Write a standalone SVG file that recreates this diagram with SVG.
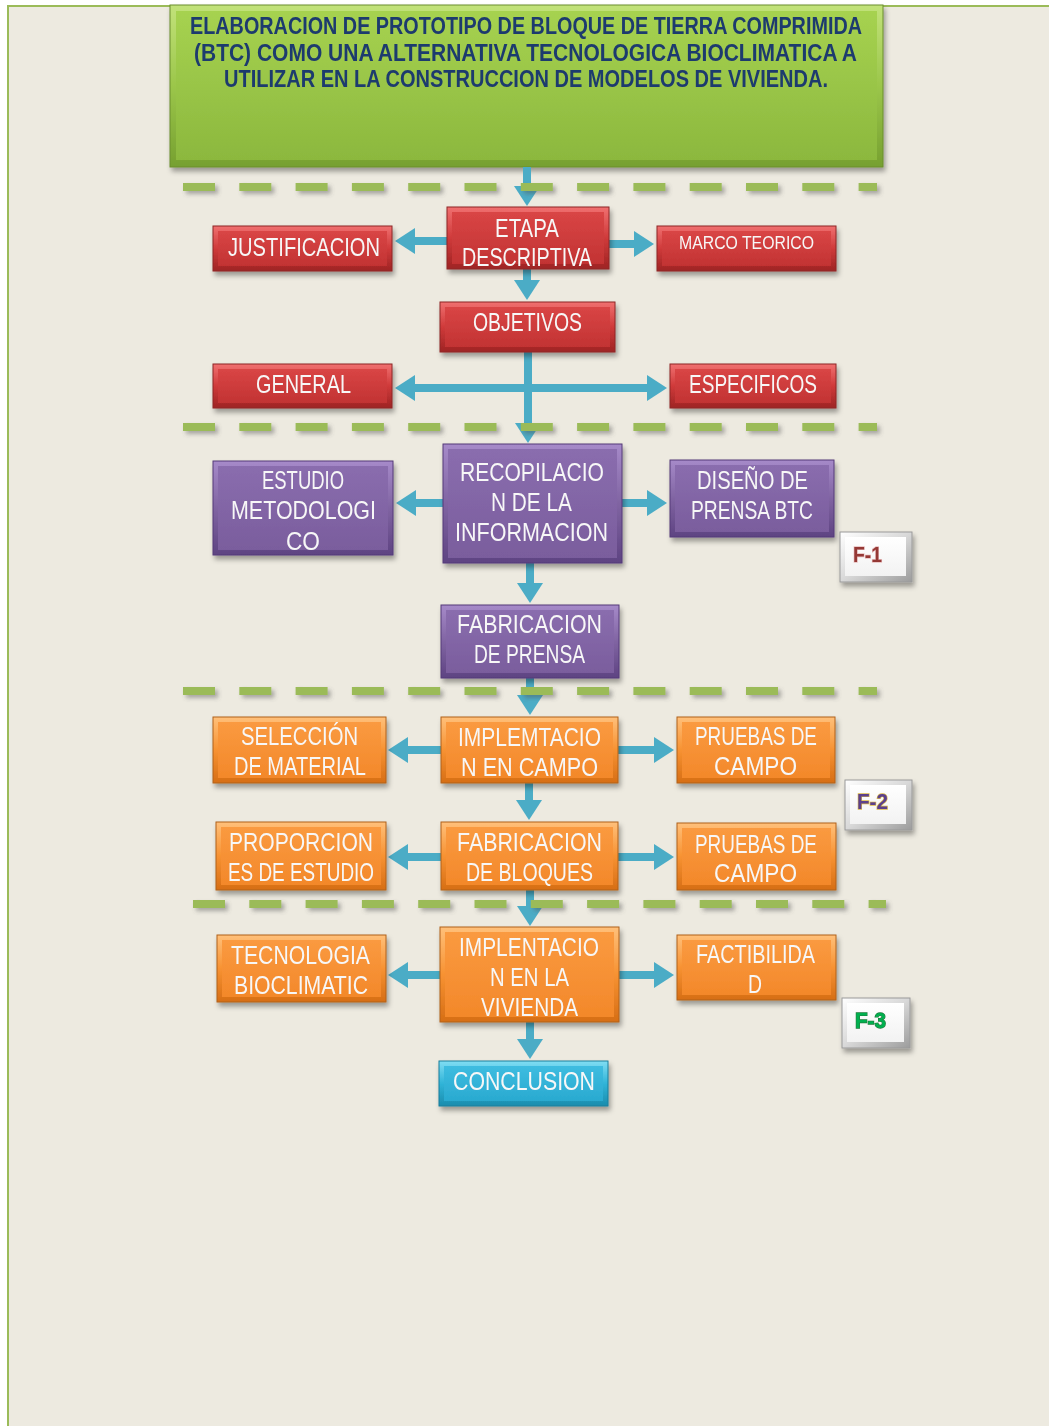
<svg xmlns="http://www.w3.org/2000/svg" width="1049" height="1426" viewBox="0 0 1049 1426">
<defs>
<style>
.t{font-family:"Liberation Sans",Arial,sans-serif;font-size:25px;fill:#F7F7F7;text-anchor:middle}
.tt{font-family:"Liberation Sans",Arial,sans-serif;font-size:23px;font-weight:bold;fill:#1F3A6E;text-anchor:middle}
.fl{font-family:"Liberation Sans",Arial,sans-serif;font-size:22px;font-weight:bold;text-anchor:middle;paint-order:stroke;stroke-width:1.3px}
.node{filter:url(#sh)}
.red .o{fill:url(#rO);stroke:#8E2626;stroke-width:1}
.red .i{fill:url(#rI)}
.pur .o{fill:url(#pO);stroke:#553A78;stroke-width:1}
.pur .i{fill:url(#pI)}
.org .o{fill:url(#oO);stroke:#B0601C;stroke-width:1}
.org .i{fill:url(#oI)}
.cya .o{fill:url(#cO);stroke:#1A7F9C;stroke-width:1}
.cya .i{fill:url(#cI)}
.grn .o{fill:url(#gO);stroke:#6A8E2E;stroke-width:1}
.grn .i{fill:url(#gI)}
.fb .o{fill:url(#fO);stroke:#9A9A9A;stroke-width:1}
.fb .i{fill:url(#fI)}
.c{fill:none;stroke:#4BACC6;stroke-width:8;marker-end:url(#ah)}
.dv{fill:none;stroke:#9BBB59;stroke-width:8;stroke-dasharray:32 24.3}
</style>
<filter id="sh" x="-10%" y="-10%" width="130%" height="140%">
<feDropShadow dx="2" dy="4" stdDeviation="2.5" flood-color="#000" flood-opacity="0.35"/>
</filter>
<filter id="dsh" filterUnits="userSpaceOnUse" x="0" y="0" width="1049" height="1426">
<feDropShadow dx="3" dy="3" stdDeviation="2" flood-color="#555" flood-opacity="0.45"/>
</filter>
<marker id="ah" markerUnits="userSpaceOnUse" markerWidth="20" markerHeight="26" viewBox="0 0 20 26" refX="0" refY="13" orient="auto-start-reverse">
<path d="M0,0 L20,13 L0,26 Z" fill="#4BACC6"/>
</marker>
<linearGradient id="rO" x1="0" y1="0" x2="0" y2="1"><stop offset="0" stop-color="#F07070"/><stop offset="0.5" stop-color="#CF3A3A"/><stop offset="1" stop-color="#9E2424"/></linearGradient>
<linearGradient id="rI" x1="0" y1="0" x2="0" y2="1"><stop offset="0" stop-color="#D94545"/><stop offset="1" stop-color="#C23333"/></linearGradient>
<linearGradient id="pO" x1="0" y1="0" x2="0" y2="1"><stop offset="0" stop-color="#A68AC9"/><stop offset="0.5" stop-color="#8064A2"/><stop offset="1" stop-color="#5E4382"/></linearGradient>
<linearGradient id="pI" x1="0" y1="0" x2="0" y2="1"><stop offset="0" stop-color="#8A6DAE"/><stop offset="1" stop-color="#7A5D9D"/></linearGradient>
<linearGradient id="oO" x1="0" y1="0" x2="0" y2="1"><stop offset="0" stop-color="#FFC07A"/><stop offset="0.5" stop-color="#F79232"/><stop offset="1" stop-color="#D66E15"/></linearGradient>
<linearGradient id="oI" x1="0" y1="0" x2="0" y2="1"><stop offset="0" stop-color="#FA9A40"/><stop offset="1" stop-color="#F3882A"/></linearGradient>
<linearGradient id="cO" x1="0" y1="0" x2="0" y2="1"><stop offset="0" stop-color="#7FDDF3"/><stop offset="0.5" stop-color="#30B4D8"/><stop offset="1" stop-color="#1B8CAD"/></linearGradient>
<linearGradient id="cI" x1="0" y1="0" x2="0" y2="1"><stop offset="0" stop-color="#3DBCE0"/><stop offset="1" stop-color="#2AAAD0"/></linearGradient>
<linearGradient id="gO" x1="0" y1="0" x2="0" y2="1"><stop offset="0" stop-color="#C2E27A"/><stop offset="0.5" stop-color="#9BC64A"/><stop offset="1" stop-color="#76A030"/></linearGradient>
<linearGradient id="gI" x1="0" y1="0" x2="0" y2="1"><stop offset="0" stop-color="#A6D250"/><stop offset="1" stop-color="#8CB83E"/></linearGradient>
<linearGradient id="fO" x1="0" y1="0" x2="1" y2="1"><stop offset="0" stop-color="#FFFFFF"/><stop offset="0.5" stop-color="#D8D8D8"/><stop offset="1" stop-color="#9C9C9C"/></linearGradient>
<linearGradient id="fI" x1="0" y1="0" x2="0" y2="1"><stop offset="0" stop-color="#FFFFFF"/><stop offset="1" stop-color="#F2F2F2"/></linearGradient>
</defs>

<rect x="0" y="0" width="1049" height="1426" fill="#FFFFFF"/>
<rect x="8" y="6" width="1043" height="1422" fill="#EDEAE0" stroke="#9BBB59" stroke-width="2"/>

<g id="n-title" class="node grn">
<rect class="o" x="170" y="5" width="713" height="162"/>
<rect class="i" x="176" y="11" width="701" height="149"/>
<text class="tt" x="526" y="34" textLength="672" lengthAdjust="spacingAndGlyphs">ELABORACION DE PROTOTIPO DE BLOQUE DE TIERRA COMPRIMIDA</text>
<text class="tt" x="525.5" y="61" textLength="663" lengthAdjust="spacingAndGlyphs">(BTC) COMO UNA ALTERNATIVA TECNOLOGICA BIOCLIMATICA A</text>
<text class="tt" x="526" y="87" textLength="604" lengthAdjust="spacingAndGlyphs">UTILIZAR EN LA CONSTRUCCION DE MODELOS DE VIVIENDA.</text>
</g>

<g id="connectors">
<path class="c" d="M527,167 V186"/>
<path class="c" d="M447,241 H415"/>
<path class="c" d="M609,244 H634"/>
<path class="c" d="M527,269 V280"/>
<path class="c" d="M528,352 V423"/>
<path class="c" d="M415,388 H647" style="marker-start:url(#ah)"/>
<path class="c" d="M443,503 H416"/>
<path class="c" d="M622,503 H647"/>
<path class="c" d="M530,563 V583"/>
<path class="c" d="M530,678 V695"/>
<path class="c" d="M441,750 H408"/>
<path class="c" d="M618,750 H654"/>
<path class="c" d="M529,783 V800"/>
<path class="c" d="M441,857 H408"/>
<path class="c" d="M618,857 H654"/>
<path class="c" d="M530,890 V906"/>
<path class="c" d="M440,975 H408"/>
<path class="c" d="M619,975 H654"/>
<path class="c" d="M530,1022 V1039"/>
</g>

<g id="dividers" filter="url(#dsh)">
<path class="dv" d="M183,187 H877"/>
<path class="dv" d="M183,427 H877"/>
<path class="dv" d="M183,691 H877"/>
<path class="dv" d="M193,904 H886"/>
</g>

<g id="n-justificacion" class="node red">
<rect class="o" x="213" y="226" width="179" height="45"/>
<rect class="i" x="218" y="231" width="169" height="35"/>
<text class="t" x="304" y="256" textLength="152" lengthAdjust="spacingAndGlyphs">JUSTIFICACION</text>
</g>
<g id="n-etapa" class="node red">
<rect class="o" x="447" y="207" width="162" height="62"/>
<rect class="i" x="452" y="212" width="152" height="52"/>
<text class="t" x="527" y="237" textLength="64" lengthAdjust="spacingAndGlyphs">ETAPA</text>
<text class="t" x="527" y="266" textLength="130" lengthAdjust="spacingAndGlyphs">DESCRIPTIVA</text>
</g>
<g id="n-marco" class="node red">
<rect class="o" x="657" y="226" width="179" height="45"/>
<rect class="i" x="662" y="231" width="169" height="35"/>
<text class="t" x="746.5" y="249" style="font-size:18px" textLength="135" lengthAdjust="spacingAndGlyphs">MARCO TEORICO</text>
</g>
<g id="n-objetivos" class="node red">
<rect class="o" x="440" y="302" width="175" height="50"/>
<rect class="i" x="445" y="307" width="165" height="40"/>
<text class="t" x="527.5" y="331" textLength="109" lengthAdjust="spacingAndGlyphs">OBJETIVOS</text>
</g>
<g id="n-general" class="node red">
<rect class="o" x="213" y="364" width="179" height="44"/>
<rect class="i" x="218" y="369" width="169" height="34"/>
<text class="t" x="303.5" y="393" textLength="95" lengthAdjust="spacingAndGlyphs">GENERAL</text>
</g>
<g id="n-especificos" class="node red">
<rect class="o" x="670" y="364" width="166" height="44"/>
<rect class="i" x="675" y="369" width="156" height="34"/>
<text class="t" x="753" y="393" textLength="128" lengthAdjust="spacingAndGlyphs">ESPECIFICOS</text>
</g>

<g id="n-estudio" class="node pur">
<rect class="o" x="213" y="461" width="180" height="94"/>
<rect class="i" x="218" y="466" width="170" height="84"/>
<text class="t" x="303" y="489" textLength="82" lengthAdjust="spacingAndGlyphs">ESTUDIO</text>
<text class="t" x="303.5" y="519" textLength="145" lengthAdjust="spacingAndGlyphs">METODOLOGI</text>
<text class="t" x="303" y="550" textLength="34" lengthAdjust="spacingAndGlyphs">CO</text>
</g>
<g id="n-recopilacion" class="node pur">
<rect class="o" x="443" y="444" width="179" height="119"/>
<rect class="i" x="448" y="449" width="169" height="109"/>
<text class="t" x="532" y="481" textLength="144" lengthAdjust="spacingAndGlyphs">RECOPILACIO</text>
<text class="t" x="531.5" y="511" textLength="81" lengthAdjust="spacingAndGlyphs">N DE LA</text>
<text class="t" x="531.5" y="541" textLength="153" lengthAdjust="spacingAndGlyphs">INFORMACION</text>
</g>
<g id="n-diseno" class="node pur">
<rect class="o" x="670" y="460" width="164" height="77"/>
<rect class="i" x="675" y="465" width="154" height="67"/>
<text class="t" x="752.5" y="489" textLength="111" lengthAdjust="spacingAndGlyphs">DISEÑO DE</text>
<text class="t" x="752" y="519" textLength="122" lengthAdjust="spacingAndGlyphs">PRENSA BTC</text>
</g>
<g id="n-fabprensa" class="node pur">
<rect class="o" x="441" y="605" width="178" height="73"/>
<rect class="i" x="446" y="610" width="168" height="63"/>
<text class="t" x="529.5" y="633" textLength="145" lengthAdjust="spacingAndGlyphs">FABRICACION</text>
<text class="t" x="529.5" y="663" textLength="111" lengthAdjust="spacingAndGlyphs">DE PRENSA</text>
</g>
<g id="n-f1" class="node fb">
<rect class="o" x="840" y="532" width="72" height="50"/>
<rect class="i" x="845" y="537" width="61" height="39"/>
<text class="fl" x="867.5" y="562" textLength="29" lengthAdjust="spacingAndGlyphs" style="fill:#953735;stroke:#E8C0C0">F-1</text>
</g>

<g id="n-seleccion" class="node org">
<rect class="o" x="213" y="717" width="173" height="66"/>
<rect class="i" x="218" y="722" width="163" height="56"/>
<text class="t" x="299.5" y="745" textLength="117" lengthAdjust="spacingAndGlyphs">SELECCIÓN</text>
<text class="t" x="300" y="775" textLength="132" lengthAdjust="spacingAndGlyphs">DE MATERIAL</text>
</g>
<g id="n-implemcampo" class="node org">
<rect class="o" x="441" y="717" width="177" height="66"/>
<rect class="i" x="446" y="722" width="167" height="56"/>
<text class="t" x="529.5" y="746" textLength="143" lengthAdjust="spacingAndGlyphs">IMPLEMTACIO</text>
<text class="t" x="529.5" y="776" textLength="137" lengthAdjust="spacingAndGlyphs">N EN CAMPO</text>
</g>
<g id="n-pruebas1" class="node org">
<rect class="o" x="677" y="717" width="158" height="66"/>
<rect class="i" x="682" y="722" width="148" height="56"/>
<text class="t" x="756" y="745" textLength="122" lengthAdjust="spacingAndGlyphs">PRUEBAS DE</text>
<text class="t" x="755.5" y="775" textLength="83" lengthAdjust="spacingAndGlyphs">CAMPO</text>
</g>
<g id="n-f2" class="node fb">
<rect class="o" x="845" y="780" width="67" height="50"/>
<rect class="i" x="850" y="785" width="56" height="39"/>
<text class="fl" x="872.5" y="809" textLength="31" lengthAdjust="spacingAndGlyphs" style="fill:#5B3F8C;stroke:#D9B84A">F-2</text>
</g>
<g id="n-proporcion" class="node org">
<rect class="o" x="216" y="822" width="170" height="68"/>
<rect class="i" x="221" y="827" width="160" height="58"/>
<text class="t" x="301" y="851" textLength="144" lengthAdjust="spacingAndGlyphs">PROPORCION</text>
<text class="t" x="301" y="881" textLength="146" lengthAdjust="spacingAndGlyphs">ES DE ESTUDIO</text>
</g>
<g id="n-fabbloques" class="node org">
<rect class="o" x="441" y="822" width="177" height="68"/>
<rect class="i" x="446" y="827" width="167" height="58"/>
<text class="t" x="529.5" y="851" textLength="145" lengthAdjust="spacingAndGlyphs">FABRICACION</text>
<text class="t" x="529.5" y="881" textLength="127" lengthAdjust="spacingAndGlyphs">DE BLOQUES</text>
</g>
<g id="n-pruebas2" class="node org">
<rect class="o" x="677" y="823" width="159" height="67"/>
<rect class="i" x="682" y="828" width="149" height="57"/>
<text class="t" x="756" y="853" textLength="122" lengthAdjust="spacingAndGlyphs">PRUEBAS DE</text>
<text class="t" x="755.5" y="882" textLength="83" lengthAdjust="spacingAndGlyphs">CAMPO</text>
</g>
<g id="n-tecnologia" class="node org">
<rect class="o" x="217" y="935" width="169" height="67"/>
<rect class="i" x="222" y="940" width="159" height="57"/>
<text class="t" x="300.5" y="964" textLength="139" lengthAdjust="spacingAndGlyphs">TECNOLOGIA</text>
<text class="t" x="301" y="994" textLength="134" lengthAdjust="spacingAndGlyphs">BIOCLIMATIC</text>
</g>
<g id="n-implentvivienda" class="node org">
<rect class="o" x="440" y="927" width="179" height="95"/>
<rect class="i" x="445" y="932" width="169" height="85"/>
<text class="t" x="529" y="956" textLength="140" lengthAdjust="spacingAndGlyphs">IMPLENTACIO</text>
<text class="t" x="529.5" y="986" textLength="79" lengthAdjust="spacingAndGlyphs">N EN LA</text>
<text class="t" x="529.5" y="1016" textLength="97" lengthAdjust="spacingAndGlyphs">VIVIENDA</text>
</g>
<g id="n-factibilidad" class="node org">
<rect class="o" x="677" y="935" width="159" height="65"/>
<rect class="i" x="682" y="940" width="149" height="55"/>
<text class="t" x="755.5" y="963" textLength="119" lengthAdjust="spacingAndGlyphs">FACTIBILIDA</text>
<text class="t" x="755" y="993" textLength="14" lengthAdjust="spacingAndGlyphs">D</text>
</g>
<g id="n-f3" class="node fb">
<rect class="o" x="842" y="998" width="68" height="50"/>
<rect class="i" x="847" y="1003" width="57" height="39"/>
<text class="fl" x="870.5" y="1028" textLength="31" lengthAdjust="spacingAndGlyphs" style="fill:#00B050;stroke:#1E7A3A">F-3</text>
</g>
<g id="n-conclusion" class="node cya">
<rect class="o" x="439" y="1061" width="169" height="45"/>
<rect class="i" x="444" y="1066" width="159" height="35"/>
<text class="t" x="524" y="1090" textLength="142" lengthAdjust="spacingAndGlyphs">CONCLUSION</text>
</g>
</svg>
